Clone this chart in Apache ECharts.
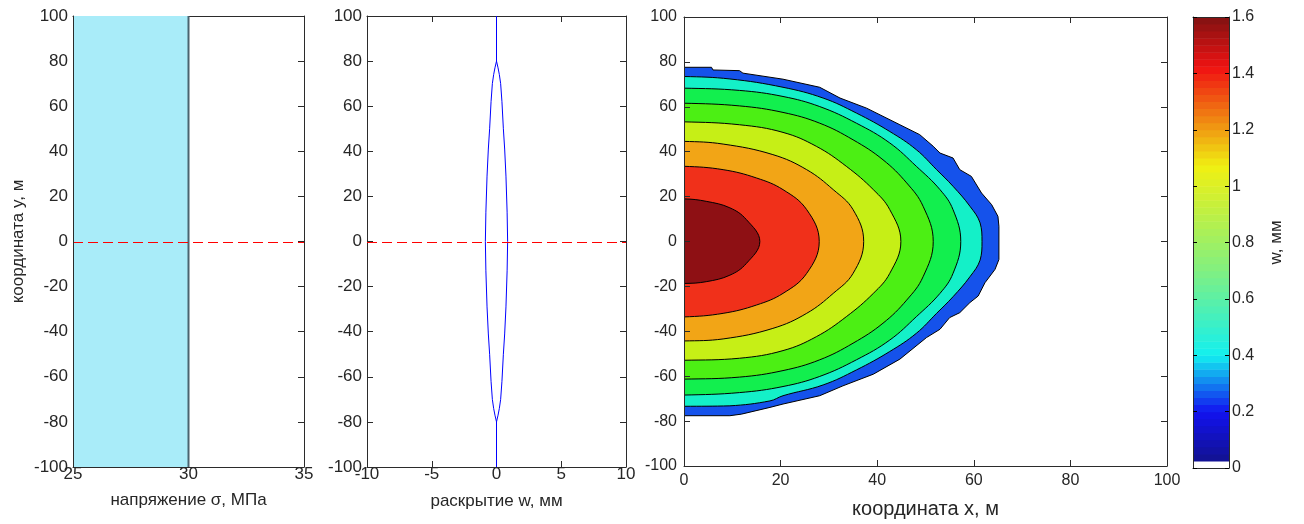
<!DOCTYPE html>
<html><head><meta charset="utf-8">
<script src="https://cdn.jsdelivr.net/npm/echarts@6/dist/echarts.min.js"></script>
<style>html,body{margin:0;padding:0;background:#fff}#chart{width:1304px;height:524px}</style>
</head><body><div id="chart"></div>
<script>
// ---------- Panel 1: stress along the crack (σ, MPa vs y, m)
const stressY = [-100, 100];
const stressSigma = [30, 30];
const stressAxis = { min: 25, max: 35, interval: 5 };

// ---------- Panel 2: crack opening w (mm) vs y (m)
const openY = [100, 80, 77, 74, 70, 62, 50, 41, 29, 13, 0, -13, -29, -41, -50, -62, -70, -74, -77, -80, -100];
const openW = [0, 0, 0.12, 0.22, 0.32, 0.42, 0.53, 0.63, 0.73, 0.82, 0.86, 0.82, 0.73, 0.63, 0.53, 0.42, 0.32, 0.22, 0.12, 0, 0];
const openAxis = { min: -10, max: 10, interval: 5 };

// ---------- Reference line y = 0
const zeroY = 0;

// ---------- Panel 3: filled contours of w(x, y); each boundary as [x, y] points
const contour1 = [[0,77.6],[5.7,77.6],[6,76.4],[11.5,76.1],[12.2,75],[20.5,72.3],[28.1,68.7],[32.3,63.9],[37.8,59.4],[44.7,52],[48.8,47.6],[51.6,42.4],[53,39.4],[55.7,37.2],[57.1,32],[59.5,29],[61.6,21.6],[63.7,16.4],[65,11.2],[65.2,6.8],[65.2,-8],[64.4,-12.4],[62.3,-18.4],[60.9,-24.3],[59.2,-27.2],[57.1,-31.7],[55,-33.9],[53,-39.1],[50.2,-42.8],[44.7,-52.4],[39.2,-59.1],[32.9,-64.3],[28.1,-68.7],[20.5,-72.4],[17.8,-73.9],[11.9,-76.9],[9.5,-77.6],[0,-77.6]];
const contour2 = [[0,73.5],[9.5,72.4],[20.5,68.7],[28.8,63.9],[35.7,57.2],[42.6,49],[48.1,40.9],[52.3,32],[55.7,24.6],[59.2,15.7],[61.3,8.3],[61.7,0],[61.3,-8.3],[59.2,-15.7],[55.7,-24.6],[52.3,-32],[48.1,-40.9],[42.6,-49],[35.7,-57.2],[28.8,-63.9],[20.5,-68.7],[17.8,-71],[9.5,-73.2],[0,-73.4]];
const contour3 = [[0,68.3],[11.5,67.3],[20.5,64.6],[28.1,60.1],[35.7,52.7],[42.6,43.9],[48.1,33.5],[53,23.1],[55.7,14.2],[57.3,0],[55.7,-14.2],[53,-23.1],[48.1,-33.5],[42.6,-43.9],[35.7,-52.7],[28.1,-60.1],[20.5,-64.6],[11.5,-67.3],[0,-68.4]];
const contour4 = [[0,61.6],[11.5,60.4],[20.5,57.5],[28.1,52.7],[35,45.3],[41.2,36.4],[46.1,26.1],[49.5,15.7],[51.6,0],[49.5,-15.7],[46.1,-26.1],[41.2,-36.4],[35,-45.3],[28.1,-52.7],[20.5,-57.5],[11.5,-60.4],[0,-61.3]];
const contour5 = [[0,53.3],[11.5,52],[20.5,48.6],[27.4,42.4],[33.6,33.5],[39.2,23.1],[42.6,14.2],[44.9,0],[42.6,-14.2],[39.2,-23.1],[33.6,-33.5],[27.4,-42.4],[20.5,-48.6],[11.5,-52],[0,-52.9]];
const contour6 = [[0,44.6],[8.1,43.4],[18.4,38.7],[25.4,32],[30.9,23.1],[35,14.2],[37.2,0],[35,-14.2],[30.9,-23.1],[25.4,-32],[18.4,-38.7],[8.1,-43.4],[0,-44.3]];
const contour7 = [[0,33.5],[8.1,32],[15,28.3],[20.5,23.1],[25.4,14.2],[28,0],[25.4,-14.2],[20.5,-23.1],[15,-28.3],[8.1,-32],[0,-33.6]];
const contour8 = [[0,19],[4.6,17.9],[9.5,15],[12.9,9.8],[15.7,0],[12.9,-9.8],[9.5,-15],[4.6,-17.9],[0,-18.7]];
const contourColors = ['#1552EB','#14F0C8','#12EF4E','#4CEF14','#C6EF16','#F2A516','#F0301A','#8E1014'];
const contours = [contour1, contour2, contour3, contour4, contour5, contour6, contour7, contour8];
const contourSmooth = [0, 0.4, 0.4, 0.4, 0.4, 0.4, 0.4, 0.4];

// ---------- Colorbar (value range, number of cells, colour-map breakpoints value -> jet position)
const cbarMin = 0, cbarMax = 1.6, cbarSteps = 64;
const cbarBreakValues = [0, 0.2, 0.4, 0.7, 1.07, 1.42, 1.6];
const cbarBreakJet = [0, 0.125, 0.375, 0.5, 0.625, 0.875, 1.0];

const FONT = 'Liberation Sans, Arial, Helvetica, sans-serif';
const AX = '#2b2b2b';
const TXT = '#262626';
const RED = '#ff0000';

function jetAt(t) {
  const c = v => Math.max(0, Math.min(1, v));
  const r = c(1.5 - Math.abs(4 * t - 3)), g = c(1.5 - Math.abs(4 * t - 2)), b = c(1.5 - Math.abs(4 * t - 1));
  const h = v => Math.round(18 + v * 222).toString(16).padStart(2, '0');
  return '#' + h(r) + h(g) + h(b);
}
function cbarColor(k, mid) {
  if (k === 0) return '#ffffff';
  let i = 0;
  while (i < cbarBreakValues.length - 2 && mid > cbarBreakValues[i + 1]) i++;
  const f = (mid - cbarBreakValues[i]) / (cbarBreakValues[i + 1] - cbarBreakValues[i]);
  return jetAt(cbarBreakJet[i] + f * (cbarBreakJet[i + 1] - cbarBreakJet[i]));
}
const cbarCells = [];
for (let k = 0; k < cbarSteps; k++) {
  cbarCells.push([k, cbarMin + (cbarMax - cbarMin) * k / cbarSteps, cbarMin + (cbarMax - cbarMin) * (k + 1) / cbarSteps]);
}

const grids = [
  { left: 73, top: 16, width: 231, height: 451 },
  { left: 367, top: 16, width: 259, height: 451 },
  { left: 684, top: 17, width: 483, height: 450 },
  { left: 1193, top: 17, width: 36, height: 451 }
];

function baseAxis(o) {
  return Object.assign({
    type: 'value',
    axisLine: { show: true, onZero: false, lineStyle: { color: AX, width: 1 } },
    axisTick: { show: true, inside: true, length: 6, lineStyle: { color: AX, width: 1 } },
    splitLine: { show: false },
    axisLabel: { show: false }
  }, o);
}
function labelStyle(size, margin, extra) {
  return Object.assign({ show: true, color: TXT, fontFamily: FONT, fontSize: size, margin: margin, showMinLabel: true, showMaxLabel: true }, extra || {});
}
const yRange = { min: -100, max: 100, interval: 20 };

const xAxes = [
  baseAxis(Object.assign({ gridIndex: 0, position: 'bottom', axisLabel: labelStyle(17, -1),
    name: 'напряжение σ, МПа', nameLocation: 'middle', nameGap: 25, nameTextStyle: { color: TXT, fontFamily: FONT, fontSize: 17 } }, stressAxis)),
  baseAxis(Object.assign({ gridIndex: 0, position: 'top' }, stressAxis)),
  baseAxis(Object.assign({ gridIndex: 1, position: 'bottom', axisLabel: labelStyle(17, -1),
    name: 'раскрытие w, мм', nameLocation: 'middle', nameGap: 26, nameTextStyle: { color: TXT, fontFamily: FONT, fontSize: 17 } }, openAxis)),
  baseAxis(Object.assign({ gridIndex: 1, position: 'top' }, openAxis)),
  baseAxis({ gridIndex: 2, position: 'bottom', min: 0, max: 100, interval: 20, z: 5, axisLabel: labelStyle(16, 7),
    name: 'координата x, м', nameLocation: 'middle', nameGap: 33, nameTextStyle: { color: TXT, fontFamily: FONT, fontSize: 20 } }),
  baseAxis({ gridIndex: 2, position: 'top', min: 0, max: 100, interval: 20, z: 5 }),
  baseAxis({ gridIndex: 3, position: 'bottom', min: 0, max: 1, axisTick: { show: false }, z: 5 }),
  baseAxis({ gridIndex: 3, position: 'top', min: 0, max: 1, axisTick: { show: false }, z: 5 })
];
const yAxes = [
  baseAxis(Object.assign({ gridIndex: 0, position: 'left', axisLabel: labelStyle(17, 5), z: 5,
    axisTick: { show: false },
    name: 'координата y, м', nameLocation: 'middle', nameGap: 46, nameRotate: 90, nameTextStyle: { color: TXT, fontFamily: FONT, fontSize: 17 } }, yRange)),
  baseAxis(Object.assign({ gridIndex: 0, position: 'right' }, yRange)),
  baseAxis(Object.assign({ gridIndex: 1, position: 'left', axisLabel: labelStyle(17, 5) }, yRange)),
  baseAxis(Object.assign({ gridIndex: 1, position: 'right' }, yRange)),
  baseAxis(Object.assign({ gridIndex: 2, position: 'left', axisLabel: labelStyle(16, 7), z: 5 }, yRange)),
  baseAxis(Object.assign({ gridIndex: 2, position: 'right', z: 5 }, yRange)),
  baseAxis({ gridIndex: 3, position: 'right', min: cbarMin, max: cbarMax, interval: 0.2, z: 5,
    axisTick: { show: true, inside: true, length: 4, lineStyle: { color: '#000' } },
    axisLabel: labelStyle(16, 3, { formatter: v => String(Math.round(v * 10) / 10) }),
    name: 'w, мм', nameLocation: 'middle', nameGap: 39, nameRotate: 90, nameTextStyle: { color: TXT, fontFamily: FONT, fontSize: 17 } }),
  baseAxis({ gridIndex: 3, position: 'left', min: cbarMin, max: cbarMax, interval: 0.2, z: 5,
    axisTick: { show: true, inside: true, length: 4, lineStyle: { color: '#000' } } })
];

// dashed red line at y = 0 drawn as a custom dashed polyline through the axes
function zeroLineSeries(xi, yi, axis) {
  const data = [[axis.min, zeroY], [axis.max, zeroY]];
  return {
    type: 'custom', xAxisIndex: xi, yAxisIndex: yi, data: data, silent: true, z: 4, clip: true,
    renderItem: (params, api) => {
      if (params.dataIndex !== 0) return null;
      const a = api.coord(data[0]), b = api.coord(data[1]);
      const y = Math.round(a[1]) + 0.5;
      return { type: 'line', shape: { x1: a[0], y1: y, x2: b[0], y2: y },
        style: { stroke: RED, lineWidth: 1, lineDash: [10, 5], fill: null } };
    }
  };
}

const series = [];
// Panel 1 fill between axis min and stress profile
const stressData = stressY.map((y, i) => [stressSigma[i], y]);
series.push({
  type: 'custom', xAxisIndex: 0, yAxisIndex: 0, data: stressData, clip: true, silent: true,
  renderItem: (params, api) => {
    if (params.dataIndex !== 0) return null;
    const pts = [api.coord([stressAxis.min, stressData[0][1]])]
      .concat(stressData.map(p => api.coord(p)))
      .concat([api.coord([stressAxis.min, stressData[stressData.length - 1][1]])]);
    return { type: 'polygon', shape: { points: pts }, style: { fill: '#A9ECF9' } };
  }
});
series.push({
  type: 'line', xAxisIndex: 0, yAxisIndex: 0, data: stressData, symbol: 'none', silent: true,
  lineStyle: { color: '#4a6470', width: 2 }, z: 3
});
series.push(zeroLineSeries(0, 0, stressAxis));
// Panel 2 opening profile (both crack faces)
series.push({
  type: 'line', xAxisIndex: 2, yAxisIndex: 2, data: openY.map((y, i) => [openW[i], y]),
  symbol: 'none', silent: true, lineStyle: { color: '#0000ff', width: 1 }
});
series.push({
  type: 'line', xAxisIndex: 2, yAxisIndex: 2, data: openY.map((y, i) => [-openW[i], y]),
  symbol: 'none', silent: true, lineStyle: { color: '#0000ff', width: 1 }
});
series.push(zeroLineSeries(2, 2, openAxis));
// Panel 3 filled contours
contours.forEach((pts, li) => {
  series.push({
    type: 'custom', xAxisIndex: 4, yAxisIndex: 4, data: pts, clip: true, silent: true, z: 2 + li * 0.01,
    renderItem: (params, api) => {
      if (params.dataIndex !== 0) return null;
      const first = pts[0], last = pts[pts.length - 1];
      const ext = [[first[0] - 10, first[1]]].concat(pts).concat([[last[0] - 10, last[1]]]);
      const px = ext.map(p => api.coord(p));
      let x0 = Infinity, y0 = Infinity, x1 = -Infinity, y1 = -Infinity;
      px.forEach(p => { x0 = Math.min(x0, p[0]); y0 = Math.min(y0, p[1]); x1 = Math.max(x1, p[0]); y1 = Math.max(y1, p[1]); });
      const shape = { points: px };
      if (contourSmooth[li] > 0) { shape.smooth = contourSmooth[li]; shape.smoothConstraint = [[x0, y0], [x1, y1]]; }
      return {
        type: 'polygon', shape: shape,
        style: { fill: contourColors[li], stroke: '#000', lineWidth: 1 }
      };
    }
  });
});
// Colorbar
series.push({
  type: 'custom', xAxisIndex: 6, yAxisIndex: 6, data: cbarCells, silent: true, clip: true,
  renderItem: (params, api) => {
    const k = api.value(0), lo = api.value(1), hi = api.value(2);
    const a = api.coord([0, hi]), b = api.coord([1, lo]);
    return { type: 'rect', shape: { x: a[0], y: a[1], width: b[0] - a[0], height: b[1] - a[1] + 0.5 },
      style: { fill: cbarColor(k, (lo + hi) / 2) } };
  }
});

const chart = echarts.init(document.getElementById('chart'), null, { renderer: 'canvas' });
chart.setOption({
  animation: false,
  backgroundColor: '#ffffff',
  grid: grids,
  xAxis: xAxes,
  yAxis: yAxes,
  series: series
});
</script></body></html>
